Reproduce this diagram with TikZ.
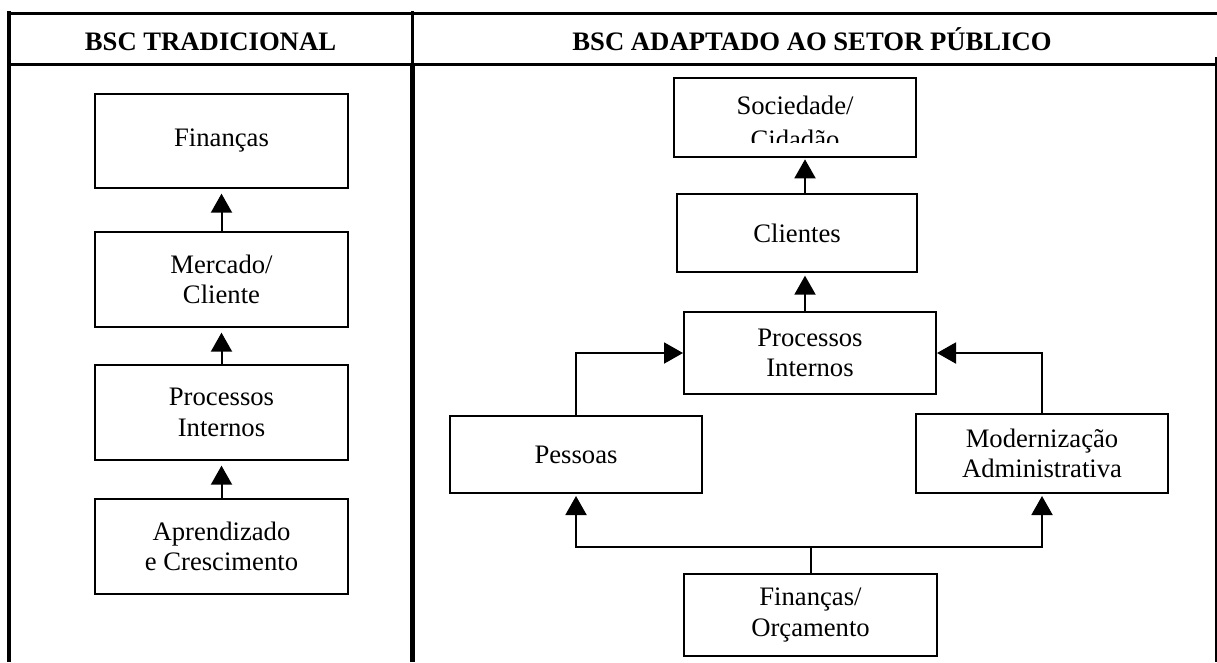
\documentclass[tikz,border=0pt]{standalone}
\usepackage{fontspec}
\setmainfont{Liberation Serif}
\usetikzlibrary{arrows.meta}
\newcommand\pxu{0.75pt}
\tikzset{
  box/.style={draw, line width=1.5pt, inner sep=0pt, align=center,
    font=\fontsize{20pt}{23pt}\selectfont},
  hdr/.style={inner sep=0pt, anchor=base, font=\fontsize{20pt}{23pt}\selectfont\bfseries},
  txt/.style={inner sep=0pt, font=\fontsize{20pt}{23pt}\selectfont},
  arr/.style={line width=1.5pt, -{Triangle[length=14.25pt,width=15.75pt]}},
  con/.style={line width=1.5pt},
  rule/.style={line width=2.25pt},
}
\begin{document}
\begin{tikzpicture}[x=0.75pt,y=-0.75pt]
\useasboundingbox (0,0) rectangle (1217,662);
\clip (0,0) rectangle (1217,662);
% table rules
\draw[rule] (7,13) -- (1217,13);
\draw[rule] (7,64) -- (1217,64);
\draw[line width=3pt] (9,11) -- (9,662);
\draw[line width=2.25pt] (412,11) -- (412,64);
\draw[line width=3.75pt] (412,64) -- (412,662);
\draw[line width=1.5pt] (1216,57) -- (1216,662);
% headers
\node[hdr] (hl) at (210.5,50) {BSC TRADICIONAL};
\node[hdr] (hr) at (812,50) {BSC ADAPTADO AO SETOR PÚBLICO};
% left column
\node[box, minimum width={253*\pxu}, minimum height={94*\pxu}] (fin) at (221.5,141) {Finanças};
\node[box, minimum width={253*\pxu}, minimum height={95*\pxu}] (mer) at (221.5,279.5) {Mercado/\\Cliente};
\node[box, minimum width={253*\pxu}, minimum height={95*\pxu}] (pin) at (221.5,412.5) {Processos\\Internos};
\node[box, minimum width={253*\pxu}, minimum height={95*\pxu}] (apr) at (221.5,546.5) {Aprendizado\\e Crescimento};
\draw[arr, shorten >=3.5pt] (mer.north) -- (fin.south);
\draw[arr, shorten >=3.5pt] (pin.north) -- (mer.south);
\draw[arr, shorten >=3.5pt] (apr.north) -- (pin.south);
% right column
\node[box, minimum width={242*\pxu}, minimum height={79*\pxu}] (soc) at (795,117.5) {};
\begin{scope}
\clip (676,80) rectangle (914,142);
\node[txt, anchor=base] (soc1) at (795,114) {Sociedade/};
\node[txt, anchor=base] (soc2) at (795,148) {Cidadão};
\end{scope}
\node[box, minimum width={240*\pxu}, minimum height={78*\pxu}] (cli) at (797,233) {Clientes};
\node[box, minimum width={252*\pxu}, minimum height={82*\pxu}] (pro) at (810,353) {Processos\\Internos};
\node[box, minimum width={252*\pxu}, minimum height={77*\pxu}] (pes) at (576,454.5) {Pessoas};
\node[box, minimum width={252*\pxu}, minimum height={79*\pxu}] (mod) at (1042,453.5) {Modernização\\Administrativa};
\node[box, minimum width={253*\pxu}, minimum height={82*\pxu}] (fo) at (810.5,615) {Finanças/\\Orçamento};
\coordinate (ax) at (805,0);
\draw[arr, shorten >=1pt] (ax |- cli.north) -- (ax |- soc.south);
\draw[arr, shorten >=2pt] (ax |- pro.north) -- (ax |- cli.south);
\draw[arr] (pes.north) |- (pro.west);
\draw[arr] (mod.north) |- (pro.east);
\coordinate (j) at (fo.north |- 0,547);
\draw[con] (fo.north) -- (j);
\draw[arr, shorten >=1.5pt] (j) -| (pes.south);
\draw[arr, shorten >=1.5pt] (j) -| (mod.south);
\end{tikzpicture}
\end{document}
